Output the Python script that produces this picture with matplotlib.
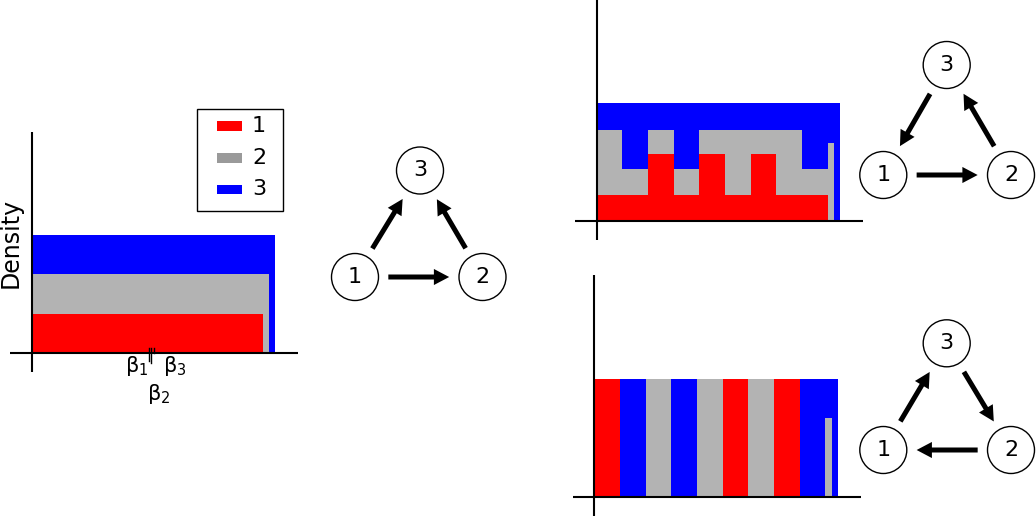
import matplotlib
matplotlib.use("Agg")
import matplotlib.pyplot as plt
from matplotlib.patches import Circle, Rectangle, FancyArrowPatch, ArrowStyle

plt.rcParams['font.family'] = ['DejaVu Sans']
plt.rcParams['mathtext.fontset'] = 'dejavusans'

# ---------------- data ----------------
series_labels = ['1', '2', '3']
series_colors = ['#ff0000', '#b3b3b3', '#0000ff']
legend_colors = ['#ff0000', '#9a9a9a', '#0000ff']

# left panel (stacked heights, cumulative tops of layers 1, 1+2, 1+2+3)
left_edges = [0.0, 1.0, 1.027, 1.055]
left_top1 = [1.0, 0.0, 0.0]
left_top2 = [2.0, 2.0, 0.0]
left_top3 = [3.0, 3.0, 3.0]
beta_values = [0.508, 0.518, 0.528]
beta_labels = ['β$_1$', 'β$_2$', 'β$_3$']

# right panels share bins
bin_edges = [0.0, 0.111, 0.222, 0.333, 0.444, 0.556, 0.667, 0.778, 0.889, 1.0, 1.027, 1.055]
top_top1 = [0.67, 0.67, 1.7, 0.67, 1.7, 0.67, 1.7, 0.67, 0.67, 0.0, 0.0]
top_top2 = [2.33, 1.33, 2.33, 1.33, 2.33, 2.33, 2.33, 2.33, 1.33, 2.0, 0.0]
top_top3 = [3.0, 3.0, 3.0, 3.0, 3.0, 3.0, 3.0, 3.0, 3.0, 3.0, 3.0]
bot_top1 = [3.0, 0.0, 0.0, 0.0, 0.0, 3.0, 0.0, 3.0, 0.0, 0.0, 0.0]
bot_top2 = [3.0, 0.0, 3.0, 0.0, 3.0, 3.0, 3.0, 3.0, 0.0, 2.0, 0.0]
bot_top3 = [3.0, 3.0, 3.0, 3.0, 3.0, 3.0, 3.0, 3.0, 3.0, 3.0, 3.0]

# network diagrams: directed edges
mid_edges = [(1, 2), (1, 3), (2, 3)]
tr_edges = [(1, 2), (2, 3), (3, 1)]
br_edges = [(1, 3), (3, 2), (2, 1)]

# ---------------- layout ----------------
W, H = 1036, 516
fig = plt.figure(figsize=(W / 100, H / 100), dpi=100)
UX, UY = 231.0, 39.2


def hist_axes(box, origin):
    x0, y0, x1, y1 = box
    ox, oy = origin
    ax = fig.add_axes([x0 / W, 1 - y1 / H, (x1 - x0) / W, (y1 - y0) / H])
    ax.set_xlim((x0 - ox) / UX, (x1 - ox) / UX)
    ax.set_ylim((oy - y1) / UY, (oy - y0) / UY)
    ax.axis('off')
    ax.axhline(0, color='black', lw=1.5, solid_capstyle='butt', zorder=3)
    ax.axvline(0, color='black', lw=1.5, solid_capstyle='butt', zorder=3)
    return ax


def draw_layers(ax, edges, tops):
    for vals, col in reversed(list(zip(tops, series_colors))):
        ax.stairs(vals, edges, baseline=0, fill=True, color=col, lw=0, zorder=1)


axL = hist_axes((10, 131.7, 297.7, 371.7), (31.7, 352.7))
draw_layers(axL, left_edges, [left_top1, left_top2, left_top3])
tick_low = [-0.2, -0.25, -0.02]
for bv, lo in zip(beta_values, tick_low):
    axL.plot([bv, bv], [0.13, lo], color='black', lw=1.0, zorder=4)

axTR = hist_axes((575, 0, 863.3, 240), (596.7, 221))
draw_layers(axTR, bin_edges, [top_top1, top_top2, top_top3])

axBR = hist_axes((573.3, 275, 861, 516), (594.3, 496.7))
draw_layers(axBR, bin_edges, [bot_top1, bot_top2, bot_top3])

# overlay in pixel coordinates for annotations and diagrams
ov = fig.add_axes([0, 0, 1, 1], facecolor='none')
ov.set_xlim(0, W)
ov.set_ylim(H, 0)
ov.axis('off')

ov.text(10.5, 242.5, 'Density', rotation=90, ha='center', va='center', fontsize=17)
ov.text(136.5, 366, beta_labels[0], ha='center', va='center', fontsize=15)
ov.text(158.7, 394, beta_labels[1], ha='center', va='center', fontsize=15)
ov.text(175, 366, beta_labels[2], ha='center', va='center', fontsize=15)

# legend
ov.add_patch(Rectangle((196.7, 109.3), 86.6, 101.7, fill=False, ec='black', lw=1.0))
for i, (lab, col) in enumerate(zip(series_labels, legend_colors)):
    yc = 126.2 + 31.6 * i
    ov.add_patch(Rectangle((216.7, yc - 4.8), 25.6, 9.6, color=col, lw=0))
    ov.text(252, yc, lab, ha='left', va='center', fontsize=16)

R = 23.5


def diagram(pos, edges):
    for k, (x, y) in pos.items():
        ov.add_patch(Circle((x, y), R, fill=False, ec='black', lw=1.0))
        ov.text(x, y, str(k), ha='center', va='center', fontsize=16)
    style = ArrowStyle.Simple(head_length=0.55, head_width=0.58, tail_width=0.18)
    for a, b in edges:
        ov.add_patch(FancyArrowPatch(pos[a], pos[b], arrowstyle=style, mutation_scale=20,
                                     shrinkA=24, shrinkB=24, color='black', lw=0))


diagram({1: (355, 277), 2: (482.5, 277), 3: (420, 170.5)}, mid_edges)
diagram({1: (883.3, 175), 2: (1011, 175), 3: (946.7, 65)}, tr_edges)
diagram({1: (883.3, 450), 2: (1011, 450), 3: (946.7, 343.3)}, br_edges)

fig.savefig('out.png', dpi=100)
